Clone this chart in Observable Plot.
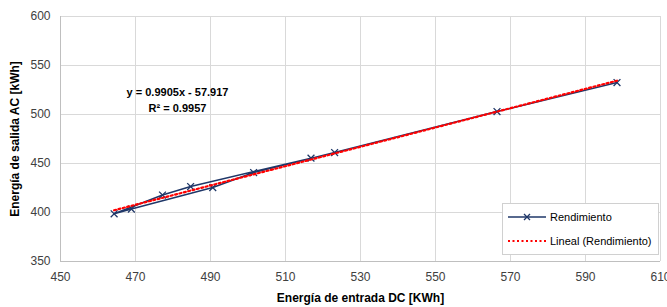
<!DOCTYPE html>
<html>
<head>
<meta charset="utf-8">
<script src="https://cdn.jsdelivr.net/npm/d3@7"></script>
<script src="https://cdn.jsdelivr.net/npm/@observablehq/plot@0.6"></script>
<style>
  html, body { margin: 0; padding: 0; background: #fff; }
  #wrap { position: relative; width: 667px; height: 307px; overflow: hidden; font-family: "Liberation Sans", Arial, sans-serif; }
  #legend { position: absolute; left: 502px; top: 203px; width: 155px; height: 50px; border: 1px solid #d0d0d0; background: #fff; font-size: 11px; color: #000; }
  .item { position: absolute; left: 5px; height: 14px; display: flex; align-items: center; }
  .item span { margin-left: 4px; }
</style>
</head>
<body>
<div id="wrap"></div>
<script>
// Data (in series order)
const energiaDC = [598.4, 566.4, 523.1, 501.5, 490.6, 468.9, 464.3, 477.2, 484.7, 516.8];
const energiaAC = [532.6, 503.0, 461.2, 440.8, 425.5, 403.5, 398.7, 417.8, 426.5, 455.5];
const xTicks = [450, 470, 490, 510, 530, 550, 570, 590, 610];
const yTicks = [350, 400, 450, 500, 550, 600];
const equationText = "y = 0.9905x - 57.917";
const r2Text = "R² = 0.9957";
const seriesName = "Rendimiento";
const trendName = "Lineal (Rendimiento)";
const xTitle = "Energía de entrada DC [KWh]";
const yTitle = "Energía de salida AC [kWh]";

const navy = "#1f3768";
const red = "#ff0000";
const data = energiaDC.map((d, i) => ({x: d, y: energiaAC[i]}));

// least-squares trendline computed from the data, over the data's x range
const mx = d3.mean(energiaDC), my = d3.mean(energiaAC);
const slope = d3.sum(data, d => (d.x - mx) * (d.y - my)) / d3.sum(data, d => (d.x - mx) ** 2);
const intercept = my - slope * mx;
const trend = d3.extent(energiaDC).map(x => ({x, y: slope * x + intercept}));

const chart = Plot.plot({
  width: 667,
  height: 307,
  marginLeft: 60,
  marginRight: 7,
  marginTop: 16,
  marginBottom: 46,
  style: {fontFamily: "'Liberation Sans', Arial, sans-serif", fontSize: "12px", color: "#404040", background: "#fff", overflow: "visible"},
  x: {domain: [450, 610]},
  y: {domain: [350, 600]},
  marks: [
    Plot.gridX(xTicks, {stroke: "#d9d9d9", strokeOpacity: 1}),
    Plot.gridY(yTicks, {stroke: "#d9d9d9", strokeOpacity: 1}),
    Plot.ruleX([450], {stroke: "#bfbfbf"}),
    Plot.ruleY([350], {stroke: "#bfbfbf"}),
    Plot.axisX(xTicks, {tickSize: 0, tickPadding: 11, label: null, fill: "#404040"}),
    Plot.axisY(yTicks, {tickSize: 0, tickPadding: 10, label: null, fill: "#404040"}),
    Plot.line(data, {x: "x", y: "y", stroke: navy, strokeWidth: 1.5}),
    Plot.dot(data, {x: "x", y: "y", symbol: "times", r: 3.2, stroke: navy, strokeWidth: 1.3}),
    Plot.line(trend, {x: "x", y: "y", stroke: red, strokeWidth: 2.2, strokeDasharray: "2 2.5"}),
    Plot.text([equationText + "\n" + r2Text], {frameAnchor: "top-left", dx: 117, dy: 82, textAnchor: "middle", lineAnchor: "middle", lineHeight: 1.45, fontSize: 11, fontWeight: "bold", fill: "#000"}),
    Plot.text([xTitle], {frameAnchor: "bottom", dy: 37, lineAnchor: "middle", fontSize: 12, fontWeight: "bold", fill: "#000"}),
    Plot.text([yTitle], {frameAnchor: "left", dx: -45, rotate: -90, textAnchor: "middle", lineAnchor: "middle", fontSize: 12, fontWeight: "bold", fill: "#000"})
  ]
});

const wrap = document.getElementById("wrap");
wrap.appendChild(chart);

const legend = document.createElement("div");
legend.id = "legend";
legend.innerHTML = `
  <div class="item" style="top:6px"><svg width="38" height="12"><line x1="0" y1="6" x2="38" y2="6" stroke="${navy}" stroke-width="1.5"/><path d="M16,3L22,9M22,3L16,9" stroke="${navy}" stroke-width="1.3"/></svg><span>${seriesName}</span></div>
  <div class="item" style="top:30px"><svg width="38" height="12"><line x1="0" y1="6" x2="38" y2="6" stroke="${red}" stroke-width="2.2" stroke-dasharray="2 2.5"/></svg><span>${trendName}</span></div>`;
wrap.appendChild(legend);
</script>
</body>
</html>
